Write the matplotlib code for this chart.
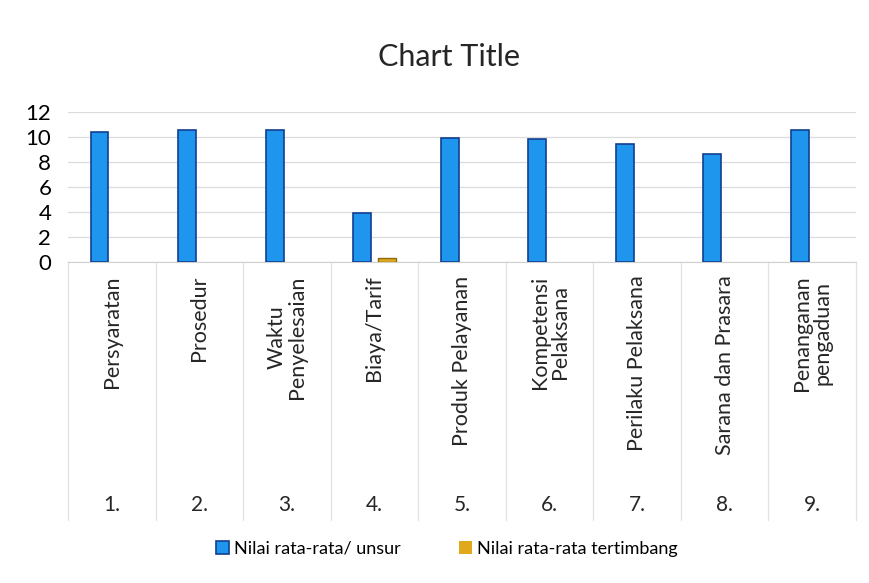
import numpy as np
import matplotlib
matplotlib.use("Agg")
import matplotlib.pyplot as plt
import matplotlib.transforms as mtransforms

plt.rcParams["font.family"] = ["Lato", "DejaVu Sans"]

categories = ["Persyaratan", "Prosedur", "Waktu\nPenyelesaian", "Biaya/Tarif",
              "Produk Pelayanan", "Kompetensi\nPelaksana", "Perilaku Pelaksana",
              "Sarana dan Prasara", "Penanganan\npengaduan"]
numbers = ["1.", "2.", "3.", "4.", "5.", "6.", "7.", "8.", "9."]
avg_unsur = [10.4, 10.6, 10.55, 3.9, 9.9, 9.85, 9.45, 8.65, 10.55]
avg_tertimbang = [0, 0, 0, 0.35, 0, 0, 0, 0, 0]
series_names = ["Nilai rata-rata/ unsur", "Nilai rata-rata tertimbang"]

fig = plt.figure(figsize=(8.7, 5.83), dpi=100)
ax = fig.add_axes([68/870, 1-262/583, (856-68)/870, 150/583])

x = np.arange(len(categories))
w = 0.205
ax.bar(x - 0.14, avg_unsur, w, color="#1E96EE", edgecolor="#123F91",
       linewidth=1.2, label=series_names[0], zorder=3)
# zero-height bars get no outline so they stay invisible
orange_edges = ["#8A6A12" if v > 0 else "none" for v in avg_tertimbang]
ax.bar(x + 0.14, avg_tertimbang, w, color="#E0A91C", edgecolor=orange_edges,
       linewidth=1.0, label=series_names[1], zorder=3)

ax.set_xlim(-0.5, len(categories) - 0.5)
ax.set_ylim(0, 12)
ax.set_yticks(range(0, 13, 2))
ax.tick_params(axis="y", length=0, labelsize=16, pad=12)
ax.set_xticks([])
ax.grid(axis="y", color="#DCDCDC", linewidth=0.9, zorder=0)
for s in ["top", "right", "left"]:
    ax.spines[s].set_visible(False)
ax.spines["bottom"].set_color("#D0D0D0")

# multi-level category axis
trans = mtransforms.blended_transform_factory(ax.transData, ax.transAxes)
for b in np.arange(-0.5, len(categories), 1.0):
    ax.plot([b, b], [0, -1.72], transform=trans, color="#E2E2E2",
            linewidth=0.9, clip_on=False)
for i, (lab, num) in enumerate(zip(categories, numbers)):
    ax.text(i, -0.09, lab, transform=trans, rotation=90, ha="center", va="top",
            multialignment="center", fontsize=15.5, color="#262626", linespacing=1.0)
    ax.text(i, -1.62, num, transform=trans, ha="center", va="center",
            fontsize=15, color="#262626")

fig.text(449/870, 1-57/583, "Chart Title", ha="center", va="center",
         fontsize=22, color="#262626")

handles, labels = ax.get_legend_handles_labels()
fig.legend(handles, labels, loc="center", bbox_to_anchor=(447/870, 1-549/583),
           ncol=2, frameon=False, fontsize=13, handlelength=0.7, handleheight=0.7,
           handletextpad=0.3, columnspacing=3.2)

fig.savefig("out.png", dpi=100, facecolor="white")
